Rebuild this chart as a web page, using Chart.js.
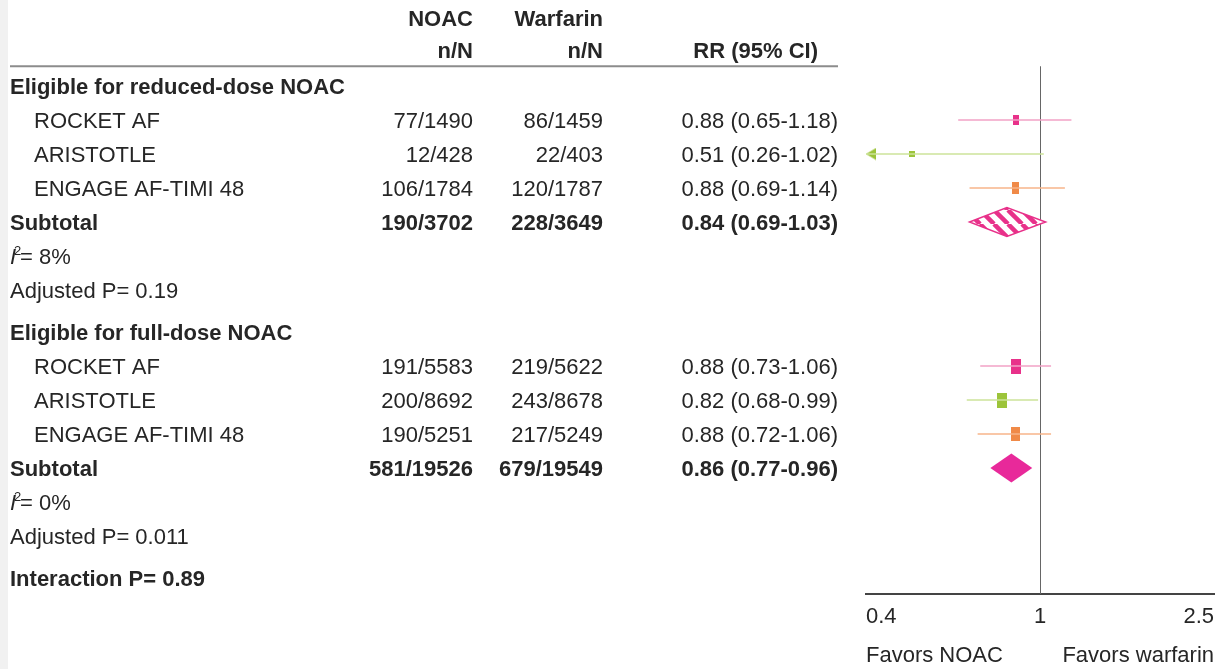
<!DOCTYPE html>
<html><head><meta charset="utf-8">
<script src="https://cdn.jsdelivr.net/npm/chart.js@4"></script>
<style>html,body{margin:0;padding:0;background:#fff;}canvas{display:block}</style>
</head><body>
<canvas id="c" width="1216" height="669"></canvas>
<script>
// ---------- data ----------
const studies = ['ROCKET AF', 'ARISTOTLE', 'ENGAGE AF-TIMI 48'];
const groupTitles = ['Eligible for reduced-dose NOAC', 'Eligible for full-dose NOAC'];
const reducedNoac = ['77/1490', '12/428', '106/1784'];
const reducedWarf = ['86/1459', '22/403', '120/1787'];
const reducedRR = [0.88, 0.51, 0.88];
const reducedLo = [0.65, 0.26, 0.69];
const reducedHi = [1.18, 1.02, 1.14];
const fullNoac = ['191/5583', '200/8692', '190/5251'];
const fullWarf = ['219/5622', '243/8678', '217/5249'];
const fullRR = [0.88, 0.82, 0.88];
const fullLo = [0.73, 0.68, 0.72];
const fullHi = [1.06, 0.99, 1.06];
const subtotalNoac = ['190/3702', '581/19526'];
const subtotalWarf = ['228/3649', '679/19549'];
const subtotalRR = [0.84, 0.86];
const subtotalLo = [0.69, 0.77];
const subtotalHi = [1.03, 0.96];
const heterogeneity = ['8%', '0%'];
const adjustedP = ['0.19', '0.011'];
const interactionP = '0.89';
const tickValues = [0.4, 1, 2.5];
const tickLabels = ['0.4', '1', '2.5'];
const favorLabels = ['Favors NOAC', 'Favors warfarin'];

// ---------- style ----------
const FONT = "'Liberation Sans', Arial, Helvetica, sans-serif";
const TXT = '#262626';
const studyColors = ['#e8318a', '#9cc43a', '#f08a48'];
const lineColors = ['#f2a2c6', '#cde39a', '#f7b48a'];
const reducedBox = [[6, 10], [6, 6], [7, 12]];
const fullBox = [[10, 15], [10, 15], [9, 14]];

// row layout (row units)
const GAP = 8 / 34;
const groupBase = [0, 7 + GAP];
const interactionRow = groupBase[1] + 6 + 1 + GAP;
const Y_MIN = -86 / 34, Y_MAX = (594 - 86) / 34;

const groups = [
  {noac: reducedNoac, warf: reducedWarf, rr: reducedRR, lo: reducedLo, hi: reducedHi, box: reducedBox},
  {noac: fullNoac, warf: fullWarf, rr: fullRR, lo: fullLo, hi: fullHi, box: fullBox}
];
const xMin = tickValues[0], xMax = tickValues[tickValues.length - 1];

function rectCanvas(w, h, color) {
  const c = document.createElement('canvas');
  c.width = w; c.height = h;
  const g = c.getContext('2d');
  g.fillStyle = color; g.fillRect(0, 0, w, h);
  return c;
}
function leftArrowCanvas(color) {
  const c = document.createElement('canvas');
  c.width = 22; c.height = 13;
  const g = c.getContext('2d');
  g.fillStyle = color;
  g.beginPath(); g.moveTo(11, 6.5); g.lineTo(21, 0.5); g.lineTo(21, 12.5); g.closePath(); g.fill();
  return c;
}

// ---------- datasets ----------
const datasets = [];
const boxPts = [], boxStyles = [], arrowPts = [], arrowStyles = [];
groups.forEach((g, gi) => {
  g.rr.forEach((v, i) => {
    const y = groupBase[gi] + 1 + i;
    datasets.push({
      data: [{x: Math.max(g.lo[i], xMin), y}, {x: g.hi[i], y}],
      showLine: true, borderColor: lineColors[i], borderWidth: 1.5,
      pointRadius: 0, clip: false
    });
    boxPts.push({x: v, y});
    boxStyles.push(rectCanvas(g.box[i][0], g.box[i][1], studyColors[i]));
    if (g.lo[i] < xMin) {
      arrowPts.push({x: xMin, y});
      arrowStyles.push(leftArrowCanvas(studyColors[i]));
    }
  });
});
datasets.push({data: arrowPts, pointStyle: arrowStyles, pointRadius: 6, clip: false, showLine: false});
datasets.push({data: boxPts, pointStyle: boxStyles, pointRadius: 6, clip: false, showLine: false});

// hatch pattern
function hatchPattern(ctx) {
  const c = document.createElement('canvas');
  c.width = 14; c.height = 14;
  const g = c.getContext('2d');
  g.fillStyle = '#fff'; g.fillRect(0, 0, 14, 14);
  g.strokeStyle = '#e8318a'; g.lineWidth = 4.5;
  [-14, 0, 14].forEach(o => { g.beginPath(); g.moveTo(o, 0); g.lineTo(o + 14, 14); g.stroke(); });
  return ctx.createPattern(c, 'repeat');
}

const tablePlugin = {
  id: 'table',
  beforeDraw(chart) {
    const ctx = chart.ctx;
    ctx.save();
    ctx.fillStyle = '#fff'; ctx.fillRect(0, 0, chart.width, chart.height);
    ctx.fillStyle = '#f1f1f1'; ctx.fillRect(0, 0, 8, chart.height);
    ctx.restore();
  },
  beforeDatasetsDraw(chart) {
    const ctx = chart.ctx, xs = chart.scales.x, ys = chart.scales.y;
    const ruleY = ys.getPixelForValue(-0.58);
    ctx.save();
    ctx.strokeStyle = '#8c8c8c'; ctx.lineWidth = 2;
    ctx.beginPath(); ctx.moveTo(10, ruleY); ctx.lineTo(838, ruleY); ctx.stroke();
    const x1 = Math.round(xs.getPixelForValue(1)) + 0.5;
    ctx.strokeStyle = '#666'; ctx.lineWidth = 1;
    ctx.beginPath(); ctx.moveTo(x1, ruleY); ctx.lineTo(x1, chart.chartArea.bottom); ctx.stroke();
    ctx.restore();
  },
  afterDatasetsDraw(chart) {
    const ctx = chart.ctx, xs = chart.scales.x, ys = chart.scales.y;
    ctx.save();
    subtotalRR.forEach((v, gi) => {
      const y = ys.getPixelForValue(groupBase[gi] + 4);
      const xl = xs.getPixelForValue(subtotalLo[gi]);
      const xc = xs.getPixelForValue(v);
      const xh = xs.getPixelForValue(subtotalHi[gi]);
      const h = 14.5;
      ctx.beginPath();
      ctx.moveTo(xl, y); ctx.lineTo(xc, y - h); ctx.lineTo(xh, y); ctx.lineTo(xc, y + h); ctx.closePath();
      if (gi === 0) {
        ctx.fillStyle = hatchPattern(ctx); ctx.fill();
        ctx.strokeStyle = '#e8318a'; ctx.lineWidth = 1.5; ctx.stroke();
      } else {
        ctx.fillStyle = '#e8299a'; ctx.fill();
      }
    });
    ctx.restore();
  },
  afterDraw(chart) {
    const ctx = chart.ctx, ys = chart.scales.y, area = chart.chartArea;
    const base = v => ys.getPixelForValue(v) + 8;
    const reg = '22px ' + FONT, bold = 'bold 22px ' + FONT;
    ctx.save();
    ctx.fillStyle = TXT; ctx.textBaseline = 'alphabetic';
    function t(s, x, y, font, align) { ctx.font = font; ctx.textAlign = align || 'left'; ctx.fillText(s, x, y); }
    const cN = 473, cW = 603, cR = 838;
    t('NOAC', cN, base(-2.0), bold, 'right');
    t('Warfarin', cW, base(-2.0), bold, 'right');
    t('n/N', cN, base(-1.07), bold, 'right');
    t('n/N', cW, base(-1.07), bold, 'right');
    t('RR (95% CI)', 818, base(-1.07), bold, 'right');
    const fmt = (r, l, h) => r.toFixed(2) + ' (' + l.toFixed(2) + '-' + h.toFixed(2) + ')';
    groups.forEach((g, gi) => {
      const b = groupBase[gi];
      t(groupTitles[gi], 10, base(b), bold);
      studies.forEach((s, i) => {
        const y = base(b + 1 + i);
        t(s, 34, y, reg);
        t(g.noac[i], cN, y, reg, 'right');
        t(g.warf[i], cW, y, reg, 'right');
        t(fmt(g.rr[i], g.lo[i], g.hi[i]), cR, y, reg, 'right');
      });
      const ys4 = base(b + 4);
      t('Subtotal', 10, ys4, bold);
      t(subtotalNoac[gi], cN, ys4, bold, 'right');
      t(subtotalWarf[gi], cW, ys4, bold, 'right');
      t(fmt(subtotalRR[gi], subtotalLo[gi], subtotalHi[gi]), cR, ys4, bold, 'right');
      const y5 = base(b + 5);
      ctx.font = 'italic 22px ' + FONT; ctx.textAlign = 'left';
      ctx.fillText('I', 10, y5);
      ctx.font = '13px ' + FONT; ctx.fillText('2', 14, y5 - 9);
      t('= ' + heterogeneity[gi], 20, y5, reg);
      t('Adjusted P= ' + adjustedP[gi], 10, base(b + 6), reg);
    });
    t('Interaction P= ' + interactionP, 10, base(interactionRow), bold);
    t(favorLabels[0], area.left, 662, reg, 'left');
    t(favorLabels[1], area.right, 662, reg, 'right');
    ctx.restore();
  }
};

new Chart(document.getElementById('c'), {
  type: 'scatter',
  data: {datasets},
  options: {
    responsive: false, animation: false, devicePixelRatio: 1,
    layout: {autoPadding: false, padding: {left: 866, right: 2, top: 0, bottom: 39}},
    plugins: {legend: {display: false}, tooltip: {enabled: false}},
    scales: {
      x: {
        type: 'logarithmic', min: xMin, max: xMax,
        afterBuildTicks: s => { s.ticks = tickValues.map(v => ({value: v})); },
        afterFit: s => { s.height = 36; s.paddingLeft = 0; s.paddingRight = 0; },
        ticks: {
          align: 'inner', autoSkip: false, maxRotation: 0, padding: 10,
          font: {family: FONT, size: 22}, color: TXT,
          callback: (v, i) => tickLabels[i]
        },
        grid: {display: false, drawTicks: false},
        border: {display: true, color: '#444', width: 2}
      },
      y: {type: 'linear', display: false, reverse: true, min: Y_MIN, max: Y_MAX}
    }
  },
  plugins: [tablePlugin]
});
</script>
</body></html>
